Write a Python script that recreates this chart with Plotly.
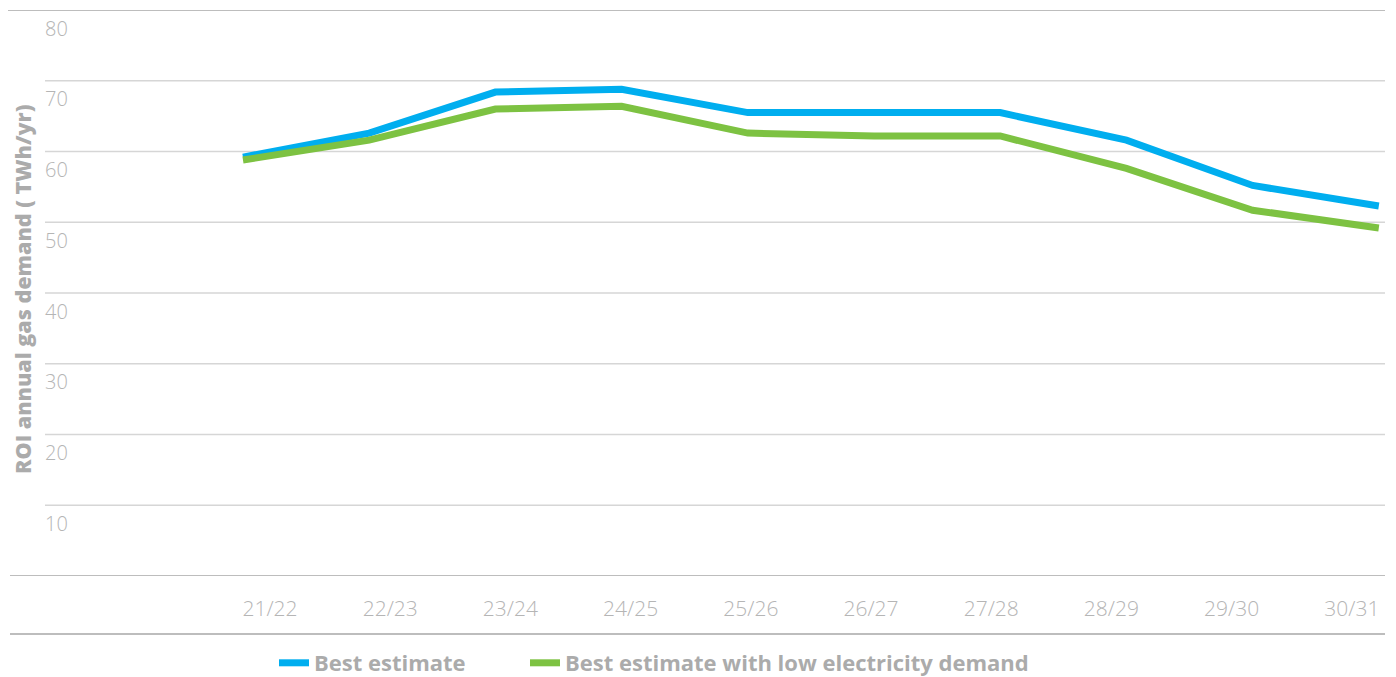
import plotly.graph_objects as go

periods = ["21/22", "22/23", "23/24", "24/25", "25/26", "26/27", "27/28", "28/29", "29/30", "30/31"]
best_estimate = [59.2, 62.6, 68.4, 68.8, 65.5, 65.5, 65.5, 61.6, 55.2, 52.3]
best_low_elec = [58.8, 61.6, 66.0, 66.4, 62.6, 62.2, 62.2, 57.6, 51.7, 49.2]
y_ticks = [10, 20, 30, 40, 50, 60, 70, 80]
series_names = ["Best estimate", "Best estimate with low electricity demand"]
series_colors = ["#00AEEF", "#7DC242"]

W, H = 1396, 677
ML, MR, MT, MB = 10, 11, 10, 101
PW = W - ML - MR
PH = H - MT - MB

idx = list(range(len(periods)))

fig = go.Figure()
for name, vals, col, lg in zip(series_names, [best_estimate, best_low_elec], series_colors,
                               ["legend", "legend2"]):
    fig.add_trace(go.Scatter(
        x=idx, y=vals, name=name, mode="lines", legend=lg,
        line=dict(color=col, width=7), xaxis="x", yaxis="y",
    ))
# invisible trace carrying the category labels axis
fig.add_trace(go.Scatter(
    x=periods, y=best_estimate, mode="lines", xaxis="x2", yaxis="y",
    line=dict(color="rgba(0,0,0,0)", width=0), showlegend=False, hoverinfo="skip",
))

grid_col = "#d6d6d6"
frame_col = "#bdbdbd"
shapes = []
for v in y_ticks[:-1]:
    shapes.append(dict(type="line", xref="paper", yref="y", x0=35 / PW, x1=1, y0=v, y1=v,
                       line=dict(color=grid_col, width=1.5), layer="below"))
shapes.append(dict(type="line", xref="paper", yref="y", x0=-2 / PW, x1=1, y0=80, y1=80,
                   line=dict(color=frame_col, width=2), layer="below"))
shapes.append(dict(type="line", xref="paper", yref="y", x0=0, x1=1, y0=0, y1=0,
                   line=dict(color=frame_col, width=2), layer="below"))
shapes.append(dict(type="line", xref="paper", yref="paper", x0=0, x1=1,
                   y0=-58 / PH, y1=-58 / PH, line=dict(color=frame_col, width=2), layer="below"))

ytick_font = dict(family="Open Sans", size=20, color="#b5b5b5", weight=300)
xtick_font = dict(family="Open Sans", size=21, color="#b5b5b5", weight=300)
annotations = []
for v in y_ticks:
    annotations.append(dict(x=33 / PW, xref="paper", y=v, yref="y", text=str(v),
                            showarrow=False, xanchor="left", yanchor="middle",
                            yshift=-18, font=ytick_font))
annotations.append(dict(x=12 / PW, xref="paper", y=(PH - (290 - MT)) / PH, yref="paper",
                        text="ROI annual gas demand ( TWh/yr)", textangle=-90,
                        showarrow=False, xanchor="center", yanchor="middle",
                        font=dict(family="Open Sans", size=21.5, color="#ababab", weight=800)))

legend_font = dict(family="Open Sans", size=22, color="#ababab", weight=700)
legend_common = dict(orientation="h", xanchor="left", yref="container", y=(H - 663) / H,
                     yanchor="middle", font=legend_font, bgcolor="rgba(0,0,0,0)")

fig.update_layout(
    width=W, height=H,
    margin=dict(l=ML, r=MR, t=MT, b=MB, pad=0, autoexpand=False),
    paper_bgcolor="white", plot_bgcolor="white",
    showlegend=True,
    legend=dict(x=(274 - ML) / PW, **legend_common),
    legend2=dict(x=(525 - ML) / PW, **legend_common),
    xaxis=dict(range=[-1.846, 9.049], visible=False, fixedrange=True, automargin=False),
    xaxis2=dict(overlaying="x", anchor="y", side="bottom", type="category",
                range=[-2.163, 9.276], showgrid=False, zeroline=False, showline=False,
                ticks="", ticklabelstandoff=18, tickfont=xtick_font, automargin=False),
    yaxis=dict(range=[0, 80], showgrid=False, zeroline=False, showline=False,
               showticklabels=False, ticks="", automargin=False),
    shapes=shapes,
    annotations=annotations,
)

fig.write_html("out.html", post_script="document.body.style.margin='0';",
               config={"displayModeBar": False})
